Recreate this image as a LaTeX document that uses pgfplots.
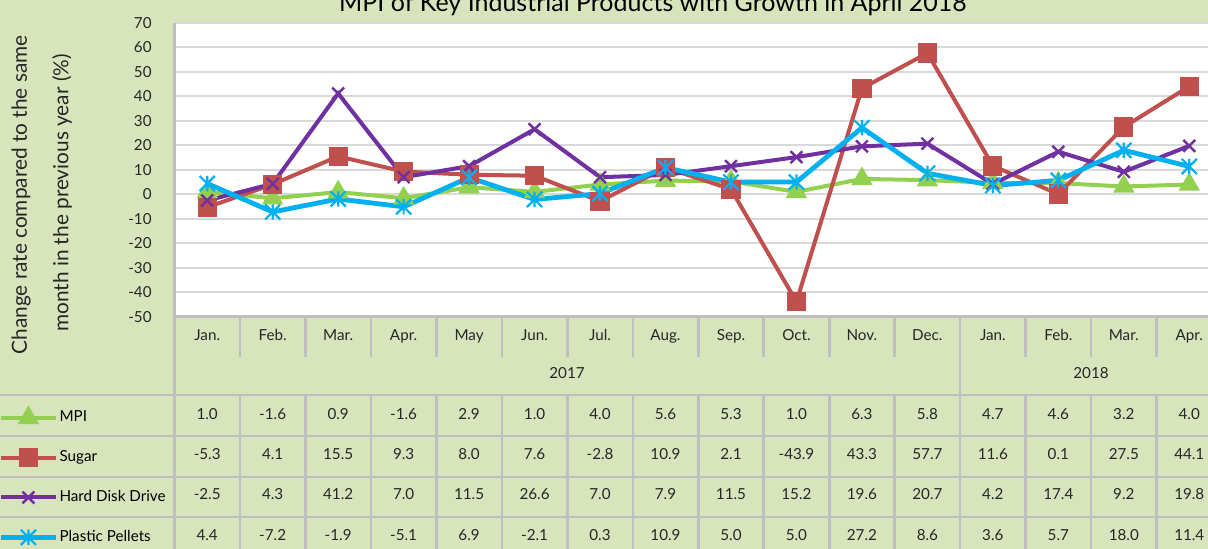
\documentclass[border=0pt]{standalone}
\usepackage{pgfplots}
\usepackage{pgfplotstable}
\pgfplotsset{compat=1.18}
\usepackage{fontspec}
\setmainfont{Lato}
\definecolor{bg}{HTML}{D8E4BC}
\definecolor{gridc}{HTML}{D9D9D9}
\definecolor{tline}{HTML}{BFBFBF}
\definecolor{cMPI}{HTML}{92D050}
\definecolor{cSug}{HTML}{C0504D}
\definecolor{cHDD}{HTML}{7030A0}
\definecolor{cPla}{HTML}{00B0F0}
\pgfdeclareplotmark{xstar}{%
  \pgfpathmoveto{\pgfqpoint{0pt}{\pgfplotmarksize}}%
  \pgfpathlineto{\pgfqpoint{0pt}{-\pgfplotmarksize}}%
  \pgfpathmoveto{\pgfqpoint{-\pgfplotmarksize}{-\pgfplotmarksize}}%
  \pgfpathlineto{\pgfqpoint{\pgfplotmarksize}{\pgfplotmarksize}}%
  \pgfpathmoveto{\pgfqpoint{-\pgfplotmarksize}{\pgfplotmarksize}}%
  \pgfpathlineto{\pgfqpoint{\pgfplotmarksize}{-\pgfplotmarksize}}%
  \pgfusepathqstroke}
\pgfplotstableread{
x mpi sugar hdd plastic
0 1.0 -5.3 -2.5 4.4
1 -1.6 4.1 4.3 -7.2
2 0.9 15.5 41.2 -1.9
3 -1.6 9.3 7.0 -5.1
4 2.9 8.0 11.5 6.9
5 1.0 7.6 26.6 -2.1
6 4.0 -2.8 7.0 0.3
7 5.6 10.9 7.9 10.9
8 5.3 2.1 11.5 5.0
9 1.0 -43.9 15.2 5.0
10 6.3 43.3 19.6 27.2
11 5.8 57.7 20.7 8.6
12 4.7 11.6 4.2 3.6
13 4.6 0.1 17.4 5.7
14 3.2 27.5 9.2 18.0
15 4.0 44.1 19.8 11.4
}\datatable
\begin{document}
\begin{tikzpicture}
\useasboundingbox (0,0) rectangle (604pt,-274.5pt);
\clip (0,0) rectangle (604pt,-274.5pt);
\fill[bg] (0,0) rectangle (604pt,-274.5pt);
\begin{axis}[
  scale only axis, width=523.75pt, height=146.85pt,
  at={(87.25pt,-158.35pt)}, anchor=south west,
  xmin=-0.5, xmax=15.5, ymin=-50, ymax=70,
  axis background/.style={fill=white},
  axis lines*=left,
  axis line style={tline, line width=1.3pt},
  ytick={-50,-40,...,70},
  ymajorgrids, major grid style={gridc, line width=1pt},
  xtick={0,...,15},
  xticklabels={Jan.,Feb.,Mar.,Apr.,May,Jun.,Jul.,Aug.,Sep.,Oct.,Nov.,Dec.,Jan.,Feb.,Mar.,Apr.},
  major tick length=0pt,
  tick label style={font=\fontsize{7.6}{9}\selectfont, text=black!85},
  yticklabel style={inner sep=0pt, anchor=east, xshift=-11.25pt},
  xticklabel style={inner sep=0pt, anchor=base, yshift=-11.9pt},
  /pgf/number format/assume math mode=true,
  legend style={at={(axis description cs:-0.1680,-0.3159)}, anchor=north west,
    draw=none, fill=none, inner sep=0pt, outer sep=0pt,
    font=\fontsize{7.6}{9}\selectfont,
    nodes={inner sep=0pt, text height=6pt, text depth=2pt},
    row sep=11.9pt, column sep=0.6pt},
  legend cell align=left,
  legend image code/.code={\draw[mark repeat=2,mark phase=2] plot coordinates {(0pt,0pt) (13.75pt,0pt) (27.5pt,0pt)};},
]
\addplot[cMPI, line width=2pt, mark=triangle*, mark size=4.2pt, mark options={solid, fill=cMPI}] table[x=x,y=mpi] {\datatable};
\addlegendentry{MPI}
\addplot[cSug, line width=2pt, mark=square*, mark size=3.8pt, mark options={solid, fill=cSug}] table[x=x,y=sugar] {\datatable};
\addlegendentry{Sugar}
\addplot[cHDD, line width=2pt, mark=x, mark size=4.2pt, mark options={solid, line width=1.2pt}] table[x=x,y=hdd] {\datatable};
\addlegendentry{Hard Disk Drive}
\addplot[cPla, line width=2.4pt, mark=xstar, mark size=3.8pt, mark options={solid, line width=1.1pt}] table[x=x,y=plastic] {\datatable};
\addlegendentry{Plastic Pellets}
\end{axis}
\begin{scope}[x=0.5pt, y=-0.5pt]
  % title
  \node[anchor=base, inner sep=0pt, font=\fontsize{12.5}{15}\selectfont] at (653,11.5) {MPI of Key Industrial Products with Growth in April 2018};
  % y label
  \node[rotate=90, inner sep=0pt, font=\fontsize{10.4}{12}\selectfont, text=black!85] at (21,195) {Change rate compared to the same};
  \node[rotate=90, inner sep=0pt, font=\fontsize{10.4}{12}\selectfont, text=black!85] at (62,193) {month in the previous year (\%)};
  % table lines
  \begin{scope}[tline, line width=1.3pt]
    \draw (174.5,23) -- (174.5,560);
    \foreach \k in {1,...,15} {
      \pgfmathsetmacro\xx{174.5+65.47*\k}
      \draw (\xx,317) -- (\xx,357);
      \draw (\xx,395) -- (\xx,560);
    }
    \draw (960.1,317) -- (960.1,395);
    \foreach \yy in {395,436,477,517} { \draw (0,\yy) -- (1230,\yy); }
  \end{scope}
  % years
  \node[font=\fontsize{7.6}{9}\selectfont, text=black!85, anchor=base] at (567,378.5) {2017};
  \node[font=\fontsize{7.6}{9}\selectfont, text=black!85, anchor=base] at (1091,378.5) {2018};
  % values
  \foreach \r in {0,...,15} {
    \pgfmathsetmacro\xx{207.2+65.47*\r}
    \pgfplotstablegetelem{\r}{mpi}\of\datatable
    \node[font=\fontsize{7.6}{9}\selectfont, text=black!85, anchor=base] at (\xx,419.5) {\pgfplotsretval};
    \pgfplotstablegetelem{\r}{sugar}\of\datatable
    \node[font=\fontsize{7.6}{9}\selectfont, text=black!85, anchor=base] at (\xx,459.5) {\pgfplotsretval};
    \pgfplotstablegetelem{\r}{hdd}\of\datatable
    \node[font=\fontsize{7.6}{9}\selectfont, text=black!85, anchor=base] at (\xx,499.5) {\pgfplotsretval};
    \pgfplotstablegetelem{\r}{plastic}\of\datatable
    \node[font=\fontsize{7.6}{9}\selectfont, text=black!85, anchor=base] at (\xx,540.5) {\pgfplotsretval};
  }
\end{scope}
\end{tikzpicture}
\end{document}
